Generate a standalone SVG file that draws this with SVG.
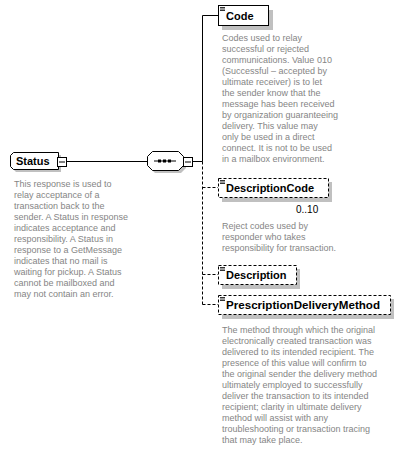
<svg xmlns="http://www.w3.org/2000/svg" width="401" height="451" viewBox="0 0 401 451">
<style>
.bg{fill:#fff}
.box{fill:#fff;stroke:#000;stroke-width:1}
.dbox{fill:#fff;stroke:#000;stroke-width:1;stroke-dasharray:3,2}
.sh{fill:#c0c0c0}
.ttl{font-family:"Liberation Sans",Arial,sans-serif;font-size:11px;font-weight:bold;fill:#000}
.desc{font-family:"Liberation Sans",Arial,sans-serif;font-size:9px;fill:#858585}
.occ{font-family:"Liberation Sans",Arial,sans-serif;font-size:10px;fill:#000}
.ln{stroke:#000;stroke-width:1;fill:none}
.dl{stroke:#000;stroke-width:1;fill:none;stroke-dasharray:3,2}
.ic{stroke:#000;stroke-width:0.8}
</style>
<rect class="bg" x="0" y="0" width="401" height="451"/>
<g id="connectors">
<line class="ln" x1="67" y1="161.5" x2="147" y2="161.5"/>
<line class="ln" x1="193" y1="161.5" x2="202.5" y2="161.5"/>
<polyline class="ln" points="218,15.5 202.5,15.5 202.5,161.5"/>
<line class="dl" x1="202.5" y1="161.5" x2="202.5" y2="304.5"/>
<line class="dl" x1="202.5" y1="187.5" x2="218" y2="187.5"/>
<line class="dl" x1="202.5" y1="274.5" x2="218" y2="274.5"/>
<line class="dl" x1="202.5" y1="304.5" x2="218" y2="304.5"/>
</g>
<g id="Status">
<path class="sh" d="M16,155 H61 V172 H16 L13,169 V158 Z"/>
<path class="box" d="M13.5,152.5 H58.5 V169.5 H13.5 L10.5,166.5 V155.5 Z"/>
<text class="ttl" x="16" y="165">Status</text>
<rect class="box" x="57.5" y="157.5" width="9" height="9"/>
<line class="ln" x1="59" y1="162" x2="65" y2="162"/>
<text class="desc"><tspan x="14" y="187">This response is used to</tspan><tspan x="14" y="198">relay acceptance of a</tspan><tspan x="14" y="209">transaction back to the</tspan><tspan x="14" y="220">sender. A Status in response</tspan><tspan x="14" y="231">indicates acceptance and</tspan><tspan x="14" y="242">responsibility. A Status in</tspan><tspan x="14" y="253">response to a GetMessage</tspan><tspan x="14" y="264">indicates that no mail is</tspan><tspan x="14" y="275">waiting for pickup. A Status</tspan><tspan x="14" y="286">cannot be mailboxed and</tspan><tspan x="14" y="297">may not contain an error.</tspan></text>
</g>
<g id="Sequence">
<path class="sh" d="M155,154 H181 L186,159 V168 L181,173 H155 L150,168 V159 Z"/>
<path class="box" d="M152.5,151.5 H178.5 L183.5,156.5 V165.5 L178.5,170.5 H152.5 L147.5,165.5 V156.5 Z"/>
<line class="ln" x1="154" y1="161" x2="176" y2="161"/>
<rect x="158" y="159.5" width="3" height="3" fill="#000"/>
<rect x="163" y="159.5" width="3" height="3" fill="#000"/>
<rect x="168" y="159.5" width="3" height="3" fill="#000"/>
<rect class="box" x="183.5" y="157.5" width="9" height="9"/>
<line class="ln" x1="185" y1="162" x2="191" y2="162"/>
</g>
<g id="Code">
<rect class="sh" x="222" y="10" width="51" height="20"/>
<rect class="box" x="218.5" y="5.5" width="50" height="20"/>
<line class="ic" x1="220" y1="7.5" x2="225" y2="7.5"/>
<line class="ic" x1="220" y1="9" x2="225" y2="9"/>
<line class="ic" x1="220" y1="10.5" x2="225" y2="10.5"/>
<text class="ttl" x="226" y="20">Code</text>
<text class="desc"><tspan x="222" y="41">Codes used to relay</tspan><tspan x="222" y="52">successful or rejected</tspan><tspan x="222" y="63">communications. Value 010</tspan><tspan x="222" y="74">(Successful – accepted by</tspan><tspan x="222" y="85">ultimate receiver) is to let</tspan><tspan x="222" y="96">the sender know that the</tspan><tspan x="222" y="107">message has been received</tspan><tspan x="222" y="118">by organization guaranteeing</tspan><tspan x="222" y="129">delivery. This value may</tspan><tspan x="222" y="140">only be used in a direct</tspan><tspan x="222" y="151">connect. It is not to be used</tspan><tspan x="222" y="162">in a mailbox environment.</tspan></text>
</g>
<g id="DescriptionCode">
<rect class="sh" x="222" y="182" width="110" height="20"/>
<rect class="dbox" x="218.5" y="178.5" width="110" height="19"/>
<line class="ic" x1="220" y1="180.5" x2="225" y2="180.5"/>
<line class="ic" x1="220" y1="182" x2="225" y2="182"/>
<line class="ic" x1="220" y1="183.5" x2="225" y2="183.5"/>
<text class="ttl" x="226" y="192">DescriptionCode</text>
<text class="occ" x="296" y="213">0..10</text>
<text class="desc"><tspan x="222" y="229">Reject codes used by</tspan><tspan x="222" y="240">responder who takes</tspan><tspan x="222" y="251">responsibility for transaction.</tspan></text>
</g>
<g id="Description">
<rect class="sh" x="222" y="269" width="78" height="20"/>
<rect class="dbox" x="218.5" y="265.5" width="78" height="19"/>
<line class="ic" x1="220" y1="267.5" x2="225" y2="267.5"/>
<line class="ic" x1="220" y1="269" x2="225" y2="269"/>
<line class="ic" x1="220" y1="270.5" x2="225" y2="270.5"/>
<text class="ttl" x="226" y="279">Description</text>
</g>
<g id="PrescriptionDeliveryMethod">
<rect class="sh" x="222" y="299" width="172" height="20"/>
<rect class="dbox" x="218.5" y="295.5" width="172" height="19"/>
<line class="ic" x1="220" y1="297.5" x2="225" y2="297.5"/>
<line class="ic" x1="220" y1="299" x2="225" y2="299"/>
<line class="ic" x1="220" y1="300.5" x2="225" y2="300.5"/>
<text class="ttl" x="226" y="309" textLength="154" lengthAdjust="spacingAndGlyphs">PrescriptionDeliveryMethod</text>
<text class="desc"><tspan x="222" y="333">The method through which the original</tspan><tspan x="222" y="344">electronically created transaction was</tspan><tspan x="222" y="355">delivered to its intended recipient. The</tspan><tspan x="222" y="366">presence of this value will confirm to</tspan><tspan x="222" y="377">the original sender the delivery method</tspan><tspan x="222" y="388">ultimately employed to successfully</tspan><tspan x="222" y="399">deliver the transaction to its intended</tspan><tspan x="222" y="410">recipient; clarity in ultimate delivery</tspan><tspan x="222" y="421">method will assist with any</tspan><tspan x="222" y="432">troubleshooting or transaction tracing</tspan><tspan x="222" y="443">that may take place.</tspan></text>
</g>
</svg>
